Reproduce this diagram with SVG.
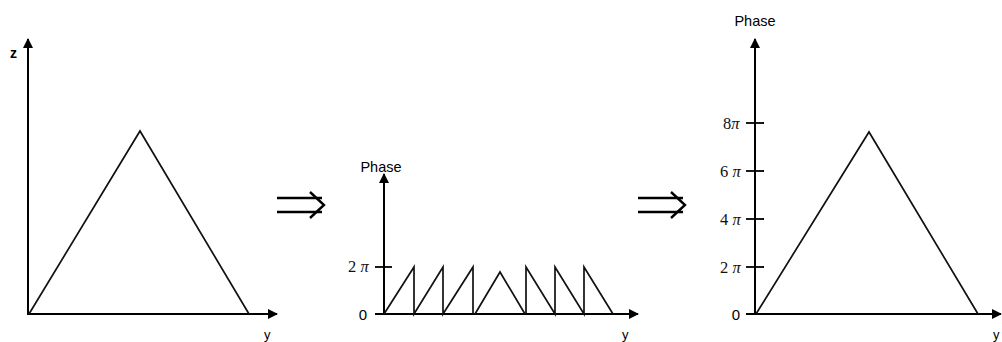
<svg xmlns="http://www.w3.org/2000/svg" width="1002" height="342" viewBox="0 0 1002 342">
<style>
.ax{stroke:#000;stroke-width:2;fill:none}
.ln{stroke:#111;stroke-width:1.7;fill:none;stroke-linejoin:miter}
.tk{stroke:#000;stroke-width:1.8}
.sans{font-family:"Liberation Sans",Arial,sans-serif;fill:#000}
.ser{font-family:"Liberation Serif","Times New Roman",serif;fill:#111;font-size:16.5px}
.pi{font-style:italic}
.imp{stroke:#000;stroke-width:2.4;fill:none}
</style>
<defs>
<marker id="ah" viewBox="0 0 10 10" refX="9" refY="5" markerWidth="10" markerHeight="10" markerUnits="userSpaceOnUse" orient="auto">
<path d="M0,0 L10,5 L0,10 Z" fill="#000"/>
</marker>
</defs>
<rect width="1002" height="342" fill="#fff"/>
<g id="connectors">
<g id="implies1">
<line class="imp" x1="277" y1="198" x2="322" y2="198"/>
<line class="imp" x1="277" y1="212" x2="322" y2="212"/>
<path class="imp" d="M310,192 L324,205 L310,218"/>
</g>
<g id="implies2">
<line class="imp" x1="638" y1="198" x2="683" y2="198"/>
<line class="imp" x1="638" y1="212" x2="683" y2="212"/>
<path class="imp" d="M671,192 L685,205 L671,218"/>
</g>
</g>
<g id="panel1">
<line class="ax" x1="28" y1="314" x2="28" y2="39" marker-end="url(#ah)"/>
<line class="ax" x1="27" y1="314" x2="277" y2="314" marker-end="url(#ah)"/>
<text class="sans" x="10" y="58" font-size="14" font-weight="bold">z</text>
<text class="sans" x="264" y="339" font-size="13">y</text>
<polyline class="ln" points="29,314 140,131 249,314"/>
</g>
<g id="panel2">
<line class="ax" x1="384" y1="314" x2="384" y2="174" marker-end="url(#ah)"/>
<line class="ax" x1="375" y1="314" x2="638" y2="314" marker-end="url(#ah)"/>
<text class="sans" x="381" y="172" font-size="14.5" text-anchor="middle">Phase</text>
<line class="tk" x1="375" y1="267" x2="392" y2="267"/>
<text class="ser" x="348" y="272">2 <tspan class="pi">π</tspan></text>
<text class="sans" x="363" y="320" font-size="15" text-anchor="middle">0</text>
<polyline class="ln" points="384,314 414,267 414,314 443,267 443,314 473,267 473,314"/>
<polyline class="ln" points="475,314 500,272 525,314"/>
<polyline class="ln" points="526,314 526,267 555,314 555,267 584,314 584,267 613,314"/>
</g>
<g id="panel3">
<line class="ax" x1="755" y1="314" x2="755" y2="39" marker-end="url(#ah)"/>
<line class="ax" x1="746" y1="314" x2="1001" y2="314" marker-end="url(#ah)"/>
<text class="sans" x="755" y="26" font-size="14.5" text-anchor="middle">Phase</text>
<line class="tk" x1="746" y1="123" x2="764" y2="123"/>
<line class="tk" x1="746" y1="171" x2="764" y2="171"/>
<line class="tk" x1="746" y1="219" x2="764" y2="219"/>
<line class="tk" x1="746" y1="267" x2="764" y2="267"/>
<text class="ser" x="723" y="129">8<tspan class="pi">π</tspan></text>
<text class="ser" x="720" y="177">6 <tspan class="pi">π</tspan></text>
<text class="ser" x="720" y="225">4 <tspan class="pi">π</tspan></text>
<text class="ser" x="720" y="273">2 <tspan class="pi">π</tspan></text>
<text class="sans" x="736" y="320" font-size="15" text-anchor="middle">0</text>
<polyline class="ln" points="756,314 869,132 978,314"/>
<text class="sans" x="993" y="339" font-size="13">y</text>
</g>
<g id="panel2-label">
<text class="sans" x="622" y="339" font-size="13">y</text>
</g>
</svg>
